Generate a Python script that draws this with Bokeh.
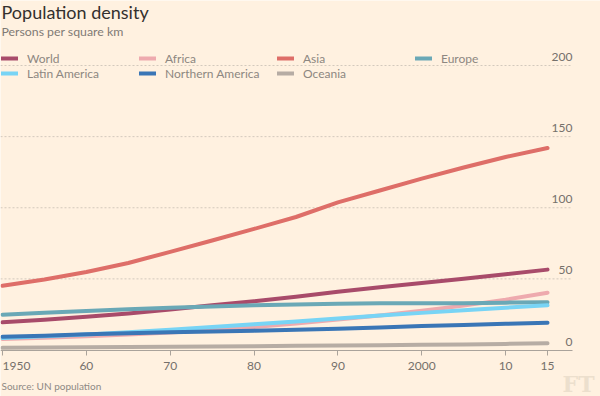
from bokeh.plotting import figure
from bokeh.models import Range1d, FixedTicker, Legend, LegendItem, LinearAxis, ColumnDataSource
from bokeh.core.properties import value
from bokeh.embed import file_html
from bokeh.resources import INLINE

years = [1950, 1955, 1960, 1965, 1970, 1975, 1980, 1985, 1990, 1995, 2000, 2005, 2010, 2015]
world = [19.5, 21.3, 23.3, 25.7, 28.4, 31.4, 34.3, 37.4, 41.0, 44.1, 47.1, 50.1, 53.3, 56.5]
africa = [7.7, 8.6, 9.6, 10.9, 12.3, 14.1, 16.2, 18.6, 21.4, 24.3, 27.6, 31.2, 35.4, 40.3]
asia = [45.1, 49.6, 54.8, 61.2, 69.0, 77.0, 85.1, 93.5, 103.8, 112.1, 120.5, 128.3, 135.7, 142.0]
europe = [24.8, 26.1, 27.4, 28.7, 29.7, 30.6, 31.4, 32.0, 32.6, 32.9, 32.8, 32.9, 33.3, 33.5]
latin_america = [8.4, 9.6, 10.9, 12.5, 14.3, 16.2, 18.1, 20.1, 22.1, 24.2, 26.1, 28.0, 29.7, 31.4]
northern_america = [9.3, 10.0, 11.0, 11.7, 12.4, 13.0, 13.6, 14.3, 15.0, 15.9, 16.8, 17.6, 18.4, 19.2]
oceania = [1.5, 1.7, 1.9, 2.1, 2.3, 2.5, 2.7, 2.9, 3.2, 3.4, 3.7, 3.9, 4.3, 4.7]

series_names = ["World", "Africa", "Asia", "Europe", "Latin America", "Northern America", "Oceania"]
series_values = [world, africa, asia, europe, latin_america, northern_america, oceania]
series_colors = ["#a84b6a", "#eeaaae", "#de6e68", "#6aa8b6", "#78d4f5", "#3a76b6", "#b6aca4"]

x_ticks = [1950, 1960, 1970, 1980, 1990, 2000, 2010, 2015]
x_tick_labels = ["1950", "60", "70", "80", "90", "2000", "10", "15"]
y_ticks = [0, 50, 100, 150, 200]
y_tick_labels = ["0", "50", "100", "150", "200"]

BG = "#fff1e0"
FONT = "Lato"
TICK_COLOR = "#75706b"

W, H = 600, 396
# scale: 8.385 px per year, 1.4225 px per person/km2; year 1950 at x=2, value 0 at y=349.5
PX_YEAR, PX_VAL = 8.385, 1.4225
X_START = 1950 - 2 / PX_YEAR
X_END = X_START + W / PX_YEAR
X_AXIS_END = X_START + 572 / PX_YEAR
Y_END = 349.5 / PX_VAL
Y_START = Y_END - H / PX_VAL

def px_x(px):
    return X_START + px / PX_YEAR

def px_y(py):
    return Y_END - py / PX_VAL

p = figure(width=W, height=H, output_backend="svg", toolbar_location=None,
           x_range=Range1d(X_START, X_END), y_range=Range1d(Y_START, Y_END),
           x_axis_location=None, y_axis_location=None,
           min_border=0, background_fill_color=BG,
           border_fill_color=BG, outline_line_color=None)
p.grid.visible = False

# dotted gridlines, limited to the axis width
grid_vals = [t for t in y_ticks if t > 0]
p.segment(x0=[X_START] * len(grid_vals), x1=[X_AXIS_END] * len(grid_vals),
          y0=grid_vals, y1=grid_vals, line_color="#d3c9bd", line_dash="2 2", line_width=1)

xaxis = LinearAxis(fixed_location=0, bounds=(X_START, X_AXIS_END))
xaxis.ticker = FixedTicker(ticks=x_ticks)
xaxis.minor_tick_line_color = None
xaxis.major_tick_in = 0
xaxis.major_tick_out = 5
xaxis.axis_line_color = "#aaa39b"
xaxis.major_tick_line_color = "#aaa39b"
xaxis.major_label_text_color = None
p.add_layout(xaxis, "below")

# x tick labels (first one left-aligned at its tick, as in the original)
xlab = ColumnDataSource(dict(x=x_ticks, y=[0] * len(x_ticks), text=x_tick_labels,
                             align=["left"] + ["center"] * (len(x_ticks) - 1)))
p.text(x="x", y="y", text="text", text_align="align", source=xlab,
       text_baseline="alphabetic", y_offset=15.5, text_font=value(FONT),
       text_font_size="12px", text_color=TICK_COLOR)

renderers = {}
for name, vals, col in zip(series_names, series_values, series_colors):
    r = p.line(years, vals, line_color=col, line_width=4, line_cap="round", line_join="round")
    renderers[name] = r

p.text(x=[X_AXIS_END] * len(y_ticks), y=y_ticks, text=y_tick_labels, text_align="right",
       text_baseline="alphabetic", y_offset=-8.5, text_font=value(FONT),
       text_font_size="12px", text_color=TICK_COLOR)

legend_order = ["World", "Latin America", "Africa", "Northern America", "Asia", "Oceania", "Europe"]
legend = Legend(items=[LegendItem(label=n, renderers=[renderers[n]]) for n in legend_order],
                location=(1, H - 48.5 - 32), orientation="vertical", nrows=2,
                glyph_width=17, glyph_height=14, label_height=14, label_width=112,
                label_standoff=9, spacing=0, padding=0, margin=0,
                background_fill_alpha=0, border_line_color=None,
                label_text_font=FONT, label_text_font_size="12px",
                label_text_color="#8d8781")
p.add_layout(legend, "center")

def add_text(x, canvas_y, text, size, color, font=FONT, align="left", style="normal"):
    p.text(x=[px_x(x)], y=[px_y(canvas_y)], text=[text], text_font=value(font),
           text_font_size=size, text_color=color, text_baseline="alphabetic",
           text_align=align, text_font_style=style)

add_text(1, 11.5, "Population density", "18px", "#33302e")
add_text(1, 31, "Persons per square km", "12.3px", "#807a75")
add_text(1, 385.5, "Source: UN population", "10px", "#8e8984")
add_text(594, 383, "FT", "22px", "#ecdfcd", font="DejaVu Serif", align="right", style="bold")

open("out.html", "w").write(file_html(p, INLINE))
